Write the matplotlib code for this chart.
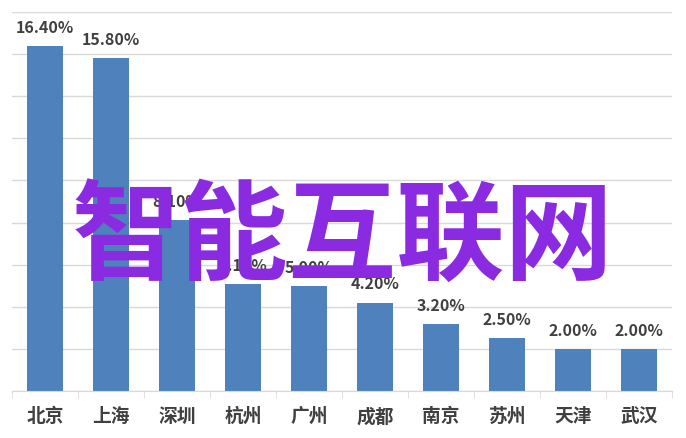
import matplotlib.pyplot as plt
import numpy as np

cities = ["北京", "上海", "深圳", "杭州", "广州", "成都", "南京", "苏州", "天津", "武汉"]
shares = [16.40, 15.80, 8.10, 5.10, 5.00, 4.20, 3.20, 2.50, 2.00, 2.00]
overlay = "智能互联网"

plt.rcParams['font.family'] = ['Noto Sans CJK SC', 'DejaVu Sans']

fig = plt.figure(figsize=(6.86, 4.39), dpi=100)
ax = fig.add_axes([12/686, 47/439, 660/686, 379/439])

x = np.arange(len(cities))
bars = ax.bar(x, shares, width=0.55, color='#4f81bd', zorder=2)

for b, v in zip(bars, shares):
    ax.annotate(f"{v:.2f}%", (b.get_x() + b.get_width()/2, v),
                xytext=(0, 8), textcoords='offset points',
                ha='center', va='bottom', fontsize=11.5, fontweight='bold',
                color='#404040', zorder=3)

ax.set_xlim(-0.5, len(cities) - 0.5)
ax.set_ylim(0, 18)
ax.set_yticks(np.arange(0, 19, 2))
ax.set_yticklabels([])
ax.tick_params(axis='y', length=0)
ax.yaxis.grid(True, color='#d9d9d9', linewidth=1)
ax.set_axisbelow(True)

ax.set_xticks(x)
ax.set_xticklabels(cities, fontsize=13.5, fontweight='bold', color='#404040')
ax.set_xticks(np.arange(-0.5, len(cities)), minor=True)
ax.tick_params(axis='x', which='major', length=0, pad=11)
ax.tick_params(axis='x', which='minor', length=5, color='#d9d9d9')

for s in ['left', 'right', 'top']:
    ax.spines[s].set_visible(False)
ax.spines['bottom'].set_color('#d9d9d9')

fig.text(0.499, 0.455, overlay, ha='center', va='center', fontsize=78,
         fontweight='bold', color='#8a2be2', zorder=10)

fig.savefig('out.png', dpi=100)
